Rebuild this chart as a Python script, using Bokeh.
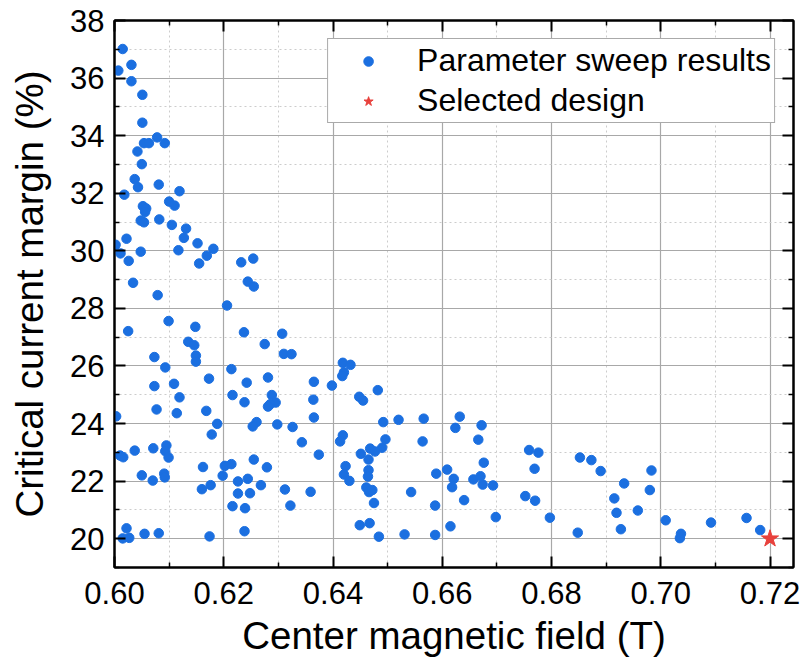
from bokeh.plotting import figure
from bokeh.models import (FixedTicker, LinearAxis, Range1d, Legend, LegendItem,
                          CustomJSTickFormatter, PrintfTickFormatter)
from bokeh.embed import file_html
from bokeh.resources import INLINE

# ---- data ----
field_T = [
    0.6015, 0.6031, 0.6007, 0.6031, 0.6051, 0.6051, 0.6078, 0.6054, 0.6063, 0.6092,
    0.6042, 0.6050, 0.6037, 0.6043, 0.6081, 0.6018, 0.6119,
    0.6100, 0.6110, 0.6052, 0.6058, 0.6056, 0.6048, 0.6054, 0.6082, 0.6105, 0.6131,
    0.6127, 0.6152, 0.6022, 0.6002, 0.6011, 0.6048, 0.6117, 0.6181, 0.6169, 0.6155,
    0.6026, 0.6232, 0.6254, 0.6244, 0.6255, 0.6034, 0.6079, 0.6206, 0.6099, 0.6025,
    0.6148, 0.6237, 0.6307, 0.6135, 0.6146, 0.6275, 0.6149, 0.6149, 0.6310, 0.6324,
    0.6073, 0.6093, 0.6214,
    0.6281, 0.6173, 0.6073, 0.6109, 0.6242, 0.6365, 0.6398, 0.6119, 0.6216, 0.6238,
    0.6288, 0.6295, 0.6285, 0.6281, 0.6364, 0.6077, 0.6114, 0.6168, 0.6365, 0.6003,
    0.6188, 0.6298, 0.6260, 0.6253, 0.6326, 0.6178, 0.6343, 0.6095, 0.6093, 0.6071,
    0.6037, 0.6010, 0.6016, 0.6099, 0.6374, 0.6255, 0.6162, 0.6279, 0.6202, 0.6214,
    0.6050, 0.6091, 0.6092, 0.6070, 0.6198, 0.6226, 0.6244, 0.6176, 0.6268, 0.6160,
    0.6226, 0.6248, 0.6312, 0.6359, 0.6216, 0.6239, 0.6322, 0.6022, 0.6015, 0.6027,
    0.6055, 0.6081, 0.6174, 0.6238,
    0.6418, 0.6432, 0.6420, 0.6417, 0.6482, 0.6448, 0.6455, 0.6492, 0.6520, 0.6566,
    0.6632, 0.6624, 0.6672, 0.6666, 0.6564, 0.6418, 0.6413, 0.6496, 0.6490, 0.6468,
    0.6477, 0.6451, 0.6465, 0.6423, 0.6420, 0.6430, 0.6465, 0.6464, 0.6461, 0.6466,
    0.6472, 0.6475, 0.6543, 0.6589, 0.6609, 0.6621, 0.6618, 0.6676, 0.6657, 0.6670,
    0.6674, 0.6693, 0.6640, 0.6587, 0.6615, 0.6698, 0.6449, 0.6467, 0.6484, 0.6531,
    0.6587, 0.6759, 0.6776, 0.6769, 0.6752, 0.6770, 0.6797,
    0.6852, 0.6873, 0.6890, 0.6933, 0.6983, 0.6915, 0.6980, 0.6919, 0.6958, 0.6927,
    0.6848, 0.7009, 0.7037, 0.7035, 0.7092, 0.7157, 0.7182,
]
margin_pct = [
    37.01, 36.46, 36.26, 35.89, 35.42, 34.45, 33.94, 33.74, 33.74, 33.74,
    33.45, 33.01, 32.49, 32.21, 32.30, 31.95, 32.07,
    31.71, 31.57, 31.55, 31.47, 31.35, 31.05, 30.99, 31.09, 30.90, 30.77,
    30.45, 30.26, 30.42, 30.21, 29.91, 29.97, 30.02, 30.07, 29.83, 29.56,
    29.65, 29.60, 29.73, 28.93, 28.76, 28.89, 28.46, 28.10, 27.56, 27.21,
    27.36, 27.17, 27.12, 26.84, 26.72, 26.76, 26.36, 26.15, 26.42, 26.41,
    26.31, 25.95, 25.89,
    25.60, 25.56, 25.30, 25.38, 25.42, 25.45, 25.32, 24.91, 24.99, 24.74,
    24.99, 24.73, 24.67, 24.59, 24.83, 24.49, 24.36, 24.44, 24.21, 24.25,
    23.99, 23.97, 24.05, 23.90, 23.88, 23.62, 23.35, 23.24, 23.04, 23.14,
    23.06, 22.89, 22.83, 22.82, 22.92, 22.75, 22.49, 22.48, 22.53, 22.59,
    22.20, 22.26, 22.13, 22.02, 22.19, 21.99, 22.08, 21.86, 21.86, 21.72,
    21.57, 21.58, 21.71, 21.63, 21.13, 21.06, 21.15, 20.36, 20.01, 20.03,
    20.17, 20.19, 20.08, 20.26,
    26.11, 26.04, 25.78, 25.65, 25.16, 24.93, 24.80, 24.05, 24.13, 24.17,
    24.24, 23.85, 23.94, 23.44, 23.38, 23.59, 23.38, 23.45, 23.16, 23.13,
    23.03, 22.95, 22.75, 22.52, 22.23, 22.01, 22.38, 22.16, 21.78, 21.62,
    21.69, 21.24, 21.62, 22.26, 22.40, 22.08, 21.79, 22.64, 22.06, 22.17,
    21.88, 21.85, 21.34, 21.15, 20.43, 20.75, 20.47, 20.54, 20.07, 20.15,
    20.13, 23.08, 22.99, 22.43, 21.48, 21.32, 20.73,
    22.82, 22.73, 22.35, 21.92, 22.37, 21.40, 21.69, 20.90, 20.98, 20.33,
    20.21, 20.64, 20.17, 20.02, 20.56, 20.72, 20.30,
]
selected_field = [0.72]
selected_margin = [20.0]

x_major = [0.60, 0.62, 0.64, 0.66, 0.68, 0.70, 0.72]
x_minor = [0.61, 0.63, 0.65, 0.67, 0.69, 0.71]
y_major = [20, 22, 24, 26, 28, 30, 32, 34, 36, 38]
y_minor = [19, 21, 23, 25, 27, 29, 31, 33, 35, 37]

FONT = "Liberation Sans"

p = figure(width=805, height=670, output_backend="svg", toolbar_location=None,
           x_range=Range1d(0.6, 0.7243), y_range=Range1d(19, 38),
           min_border_left=114, min_border_right=12, min_border_top=20,
           min_border_bottom=103,
           x_axis_label="Center magnetic field (T)",
           y_axis_label="Critical current margin (%)")
p.background_fill_color = "white"
p.border_fill_color = "white"
p.outline_line_color = "black"
p.outline_line_width = 2

xt = FixedTicker(ticks=x_major, minor_ticks=x_minor)
yt = FixedTicker(ticks=y_major, minor_ticks=y_minor)

def style_axis(ax, labels=True):
    ax.axis_line_color = "black"
    ax.axis_line_width = 2
    ax.major_tick_in = 11
    ax.major_tick_out = 0
    ax.minor_tick_in = 5
    ax.minor_tick_out = 0
    ax.major_tick_line_width = 2
    ax.minor_tick_line_width = 1.5
    ax.major_tick_line_color = "black"
    ax.minor_tick_line_color = "black"
    if labels:
        ax.major_label_text_font = FONT
        ax.major_label_text_font_size = "31px"
        ax.major_label_text_color = "black"
        ax.axis_label_text_font = FONT
        ax.axis_label_text_font_size = "38.5px"
        ax.axis_label_text_font_style = "normal"
        ax.axis_label_text_color = "black"

xa = p.xaxis[0]
xa.ticker = xt
xa.formatter = PrintfTickFormatter(format="%.2f")
style_axis(xa)
xa.major_label_standoff = 14
xa.axis_label_standoff = 7
ya = p.yaxis[0]
ya.ticker = yt
style_axis(ya)
ya.major_label_standoff = 10
ya.axis_label_standoff = 16

top = LinearAxis(ticker=xt, formatter=CustomJSTickFormatter(code="return ''"))
style_axis(top, labels=False)
top.major_label_standoff = 0
p.add_layout(top, "above")
right = LinearAxis(ticker=yt, formatter=CustomJSTickFormatter(code="return ''"))
style_axis(right, labels=False)
right.major_label_standoff = 0
p.add_layout(right, "right")

for g, t in ((p.xgrid[0], xt), (p.ygrid[0], yt)):
    g.ticker = t
    g.grid_line_color = "#a8a8a8"
    g.grid_line_width = 1.2
    g.minor_grid_line_color = "#cccccc"
    g.minor_grid_line_dash = "2 3"
    g.minor_grid_line_width = 1

r1 = p.scatter(field_T, margin_pct, marker="circle", size=9.5,
               fill_color="#1b6fe0", line_color="#1b6fe0")
r2 = p.scatter(selected_field, selected_margin, marker="star", size=18,
               fill_color="#e8413c", line_color="#e8413c")

legend = Legend(items=[LegendItem(label="Parameter sweep results", renderers=[r1]),
                       LegendItem(label="Selected design", renderers=[r2])],
                location="top_right")
legend.label_text_font = FONT
legend.label_text_font_size = "32px"
legend.label_text_color = "black"
legend.label_height = 37
legend.glyph_height = 24
legend.glyph_width = 74
legend.label_standoff = 12
legend.spacing = 3
legend.padding = 3
legend.margin = 18
legend.border_line_color = "#555555"
legend.border_line_width = 1
legend.background_fill_color = "white"
legend.background_fill_alpha = 1
p.add_layout(legend)

open("out.html", "w").write(file_html(p, INLINE))
